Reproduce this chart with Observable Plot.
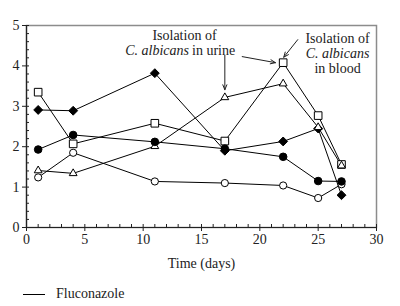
<!DOCTYPE html>
<html>
<head>
<meta charset="utf-8">
<script src="https://cdn.jsdelivr.net/npm/d3@7"></script>
<script src="https://cdn.jsdelivr.net/npm/@observablehq/plot@0.6"></script>
<style>
  html, body { margin: 0; padding: 0; background: #fff; }
  #chart { width: 400px; }
  .legend { height: 24px; line-height: 24px; font-family: "Liberation Serif", serif; font-size: 14px; color: #222; position: relative; }
  .legend .sw { position: absolute; left: 23px; top: 12px; width: 22px; height: 0; border-top: 1px solid #000; }
  .legend .lb { position: absolute; left: 56px; top: 0; }
</style>
</head>
<body>
<div id="chart"></div>
<script>
// ---- data ----
const days = [1, 4, 11, 17, 22, 25, 27];
const filledDiamond = [2.91, 2.89, 3.82, 1.90, 2.13, 2.45, 0.80];
const openSquare    = [3.35, 2.07, 2.58, 2.14, 4.08, 2.77, 1.56];
const openTriangle  = [1.41, 1.34, 2.01, 3.22, 3.56, 2.48, 1.53];
const openCircle    = [1.24, 1.85, 1.14, 1.10, 1.04, 0.73, 1.07];
const filledCircle  = [1.93, 2.29, 2.12, 1.95, 1.75, 1.15, 1.14];

const xTicks = [0, 5, 10, 15, 20, 25, 30];
const yTicks = [0, 1, 2, 3, 4, 5];
const xLabel = "Time (days)";
const legendLabel = "Fluconazole";

// annotation text (data coordinates)
const noteX = [13.54, 14.06, 14.06, 26.66, 26.66, 26.66];
const noteY = [4.75, 4.38, 4.38, 4.68, 4.31, 3.94];
const noteText = ["Isolation of", "C. albicans", "in urine", "Isolation of", "C. albicans", "in blood"];
const noteItalic = [false, true, false, false, true, false];
const noteAnchor = ["middle", "end", "start", "middle", "middle", "middle"];

// arrows (data coordinates)
const arrowX1 = [17.0, 18.49, 23.25];
const arrowY1 = [4.26, 4.23, 4.65];
const arrowX2 = [17.0, 21.34, 22.05];
const arrowY2 = [3.41, 4.08, 4.215];

// ---- build ----
const seriesDefs = [
  {name: "diamond", values: filledDiamond, symbol: "diamond2", fill: "black", r: 4.0},
  {name: "square", values: openSquare, symbol: "square", fill: "white", r: 4.3},
  {name: "triangle", values: openTriangle, symbol: "triangle", fill: "white", r: 2.9},
  {name: "ocircle", values: openCircle, symbol: "circle", fill: "white", r: 3.6},
  {name: "fcircle", values: filledCircle, symbol: "circle", fill: "black", r: 3.8}
];
const rows = seriesDefs.flatMap(s => days.map((d, i) => ({series: s.name, day: d, value: s.values[i]})));
const notes = noteText.map((t, i) => ({x: noteX[i], y: noteY[i], text: t, italic: noteItalic[i], anchor: noteAnchor[i]}));
const arrows = arrowX1.map((x, i) => ({x1: x, y1: arrowY1[i], x2: arrowX2[i], y2: arrowY2[i]}));

const xMinor = d3.range(0, 31, 1);
const yMinor = d3.range(0, 5.0001, 0.2);

const font = "Liberation Serif";
const fmt = d => String(d);
const marks = [
  Plot.frame({stroke: "#8c8c8c", strokeWidth: 1.5}),
  Plot.axisX({ticks: xMinor, tickSize: -3, tickFormat: () => "", label: null, stroke: "#222"}),
  Plot.axisY({ticks: yMinor, tickSize: -3, tickFormat: () => "", label: null, stroke: "#222"}),
  Plot.axisX({ticks: xTicks, tickSize: 4, tickPadding: 3, tickFormat: fmt, label: xLabel, labelAnchor: "center", labelArrow: "none", labelOffset: 40, fontSize: 14, fill: "#222", stroke: "#222"}),
  Plot.axisY({ticks: yTicks, tickSize: 4, tickPadding: 3, tickFormat: fmt, label: null, fontSize: 14, fill: "#222", stroke: "#222"}),
  Plot.ruleY([0], {stroke: "#222", strokeWidth: 1.2}),
  Plot.ruleX([0], {stroke: "#222", strokeWidth: 1.2}),
  Plot.line(rows, {x: "day", y: "value", z: "series", stroke: "black", strokeWidth: 1})
];
for (const s of seriesDefs) {
  marks.push(Plot.dot(rows.filter(r => r.series === s.name), {
    x: "day", y: "value", symbol: () => s.symbol, r: s.r, fill: s.fill, stroke: "black", strokeWidth: 1
  }));
}
for (const anchor of ["start", "middle", "end"]) {
  for (const italic of [false, true]) {
    const sub = notes.filter(n => n.anchor === anchor && n.italic === italic);
    if (!sub.length) continue;
    marks.push(Plot.text(sub, {
      x: "x", y: "y", text: "text", textAnchor: anchor,
      dx: anchor === "end" ? -1.5 : anchor === "start" ? 1.5 : 0,
      fontStyle: italic ? "italic" : "normal", fontSize: 14, fill: "#222"
    }));
  }
}
marks.push(Plot.arrow(arrows, {x1: "x1", y1: "y1", x2: "x2", y2: "y2", stroke: "#222", strokeWidth: 1, headLength: 8, headAngle: 45}));

const chart = Plot.plot({
  width: 400,
  height: 282,
  marginLeft: 26,
  marginRight: 24,
  marginTop: 25,
  marginBottom: 55,
  style: {fontFamily: font, fontSize: "14px", background: "white", color: "#222"},
  x: {domain: [0, 30]},
  y: {domain: [0, 5]},
  marks
});
document.getElementById("chart").appendChild(chart);

const legend = document.createElement("div");
legend.className = "legend";
legend.innerHTML = '<span class="sw"></span><span class="lb"></span>';
legend.querySelector(".lb").textContent = legendLabel;
document.body.appendChild(legend);
</script>
</body>
</html>
